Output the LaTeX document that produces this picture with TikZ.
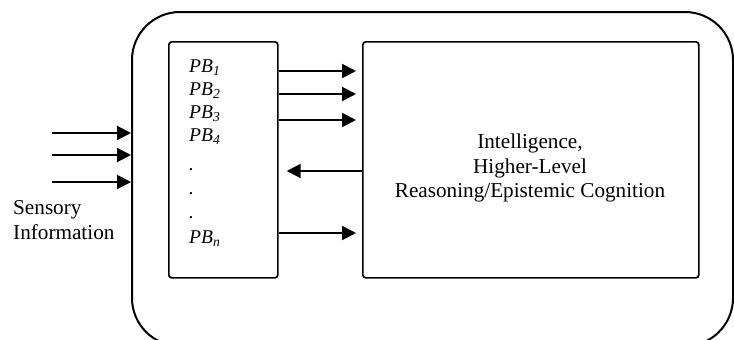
\documentclass[tikz,border=0pt]{standalone}
\usepackage{fontspec}
\setmainfont{Liberation Serif}
\usepackage{tikz}
\usetikzlibrary{arrows.meta}

\begin{document}
\begin{tikzpicture}[
    x=1pt, y=-1pt,
    box/.style={rectangle, draw, rounded corners=3pt, line width=1.7pt, inner sep=0pt, anchor=north west},
    pblabel/.style={anchor=base west, inner sep=0pt, font=\fontsize{19.5}{23}\selectfont\itshape},
    plain/.style={inner sep=0pt, align=center, font=\fontsize{21.2}{24.5}\selectfont},
    arrow/.style={-{Triangle[length=14pt, width=14pt]}, line width=2pt}
]
\useasboundingbox (0,0) rectangle (734,340);

% boxes
\node[box, rounded corners=48pt, line width=2pt, minimum width=601pt, minimum height=334pt] (brain) at (131,11) {};
\node[box, minimum width=109pt, minimum height=236pt] (pbbox) at (168,41) {};
\node[box, minimum width=336pt, minimum height=236pt] (reason) at (362,41) {};

% labels
\node[pblabel] (pb1) at (189,72) {PB\textsubscript{1}};
\node[pblabel] (pb2) at (189,95) {PB\textsubscript{2}};
\node[pblabel] (pb3) at (189,118) {PB\textsubscript{3}};
\node[pblabel] (pb4) at (189,141) {PB\textsubscript{4}};
\node[pblabel] (dot1) at (189,170) {.};
\node[pblabel] (dot2) at (189,194) {.};
\node[pblabel] (dot3) at (189,218) {.};
\node[pblabel] (pbn) at (189,243) {PB\textsubscript{n}};
\node[plain] (reasontxt) at (530,168) {Intelligence,\\Higher-Level\\Reasoning/Epistemic Cognition};
\node[plain, align=left, anchor=west] (sensory) at (13,220) {Sensory\\Information};

% input
\coordinate (in1) at (52,133);
\coordinate (in2) at (52,155);
\coordinate (in3) at (52,182);
\draw[arrow] (in1) -- (brain.west |- in1);
\draw[arrow] (in2) -- (brain.west |- in2);
\draw[arrow] (in3) -- (brain.west |- in3);

% PB to reasoning and back
\draw[arrow, shorten >=6pt] (pbbox.east |- 0,71) -- (reason.west |- 0,71);
\draw[arrow, shorten >=6pt] (pbbox.east |- 0,94) -- (reason.west |- 0,94);
\draw[arrow, shorten >=6pt] (pbbox.east |- 0,120) -- (reason.west |- 0,120);
\draw[arrow, shorten >=6pt] (pbbox.east |- 0,233) -- (reason.west |- 0,233);
\draw[arrow, shorten >=8pt] (reason.west |- 0,171) -- (pbbox.east |- 0,171);

\end{tikzpicture}
\end{document}
